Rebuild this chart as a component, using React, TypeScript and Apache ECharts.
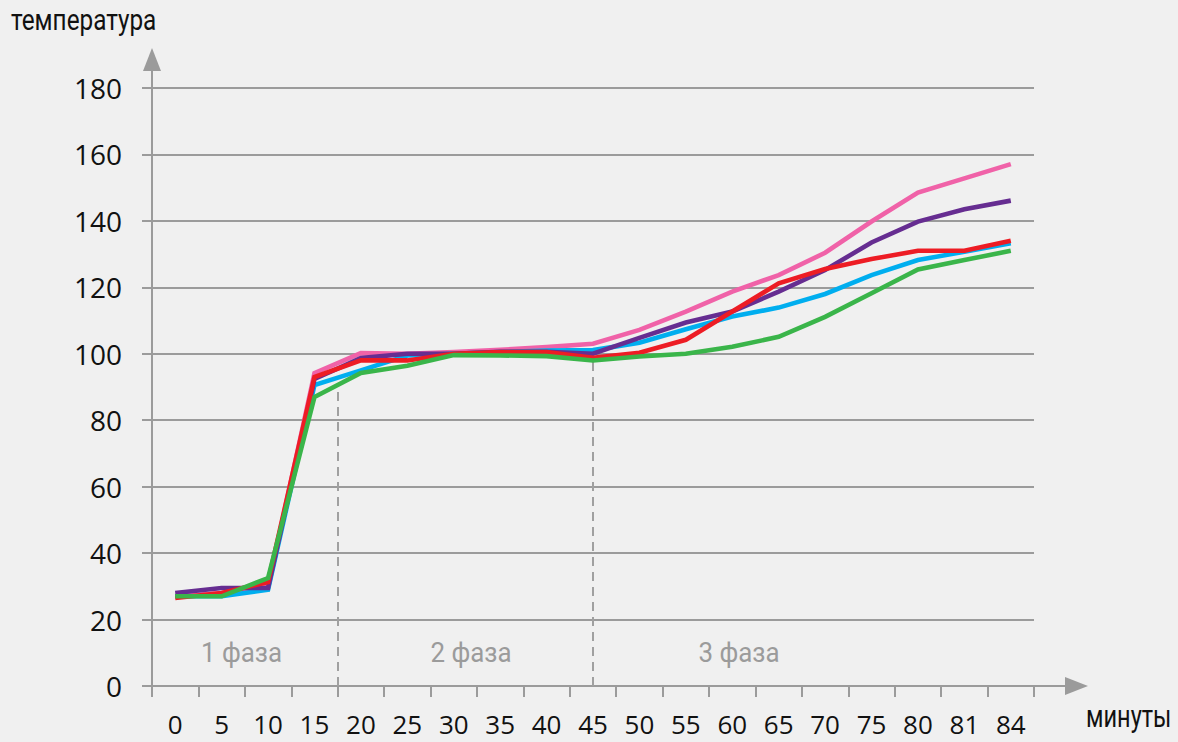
import React, { useEffect, useRef } from "react";
import * as echarts from "echarts";

const categories = ["0", "5", "10", "15", "20", "25", "30", "35", "40", "45", "50", "55", "60", "65", "70", "75", "80", "81", "84"];
const pinkValues = [27, 28, 30, 94.2, 100.2, 100, 100.5, 101.2, 102, 103, 107.2, 112.7, 118.7, 123.7, 130.4, 139.8, 148.5, 152.8, 157.1];
const blueValues = [27, 27, 29, 90.6, 95, 99.5, 100, 100.5, 101, 101.1, 103.3, 107.4, 111.2, 113.9, 118, 123.7, 128.2, 130.7, 133.3];
const purpleValues = [28, 29.5, 29.5, 92.4, 98.7, 100, 100, 100.6, 100.6, 100, 104.8, 109.4, 112.7, 118.7, 125.2, 133.5, 139.8, 143.5, 146.1];
const redValues = [26.5, 28, 31.3, 93, 98, 98, 100, 100.5, 100.5, 98.8, 100.3, 104.2, 112.7, 121.2, 125.5, 128.5, 131, 131, 134];
const greenValues = [27, 27, 32.5, 87, 94.2, 96.4, 99.6, 99.5, 99.3, 98, 99.2, 100, 102.1, 105.1, 111.1, 118.2, 125.4, 128.2, 131];
const seriesNames = ["pink", "blue", "purple", "red", "green"];
const seriesColors = ["#F062A8", "#00AEEF", "#662D91", "#ED1C24", "#3AB54A"];
// phase boundaries in category-band units (0..19) and the height of each dashed marker
const phaseBoundaries = [4, 9.5];
const phaseMarkerTops = [91, 99];
const phaseLabels = ["1 фаза", "2 фаза", "3 фаза"];
const yTicks = { min: 0, max: 180, interval: 20 };
const yAxisTitle = "температура";
const xAxisTitle = "минуты";

const GRAY = "#9b9b9b";
const NARROW = "Roboto, sans-serif";
const DIGITS = "'Open Sans', 'Noto Sans', sans-serif";

export default function App() {
  const ref = useRef<HTMLDivElement>(null);
  useEffect(() => {
    if (!ref.current) return;
    const chart = echarts.init(ref.current, null, { renderer: "svg" });
    const values = [pinkValues, blueValues, purpleValues, redValues, greenValues];
    const phaseText = (t: string, x: number) => ({
      type: "text",
      x,
      y: 652.5,
      scaleX: 0.96,
      style: { text: t, fill: "#9b9b9b", font: `27px ${NARROW}`, align: "center", verticalAlign: "middle" },
    });
    const option: any = {
      animation: false,
      backgroundColor: "#F0F0F0",
      grid: { left: 152, right: 144, top: 88, bottom: 56, containLabel: false },
      xAxis: [
        {
          type: "category",
          data: categories,
          boundaryGap: true,
          axisLine: { show: true, lineStyle: { color: GRAY, width: 2 } },
          axisTick: { show: true, length: 11, inside: false, lineStyle: { color: GRAY, width: 2 } },
          axisLabel: { color: "#111", fontSize: 26, fontFamily: DIGITS, margin: 25, interval: 0 },
          splitLine: { show: false },
        },
        { type: "value", min: 0, max: 19, show: false },
      ],
      yAxis: {
        type: "value",
        min: yTicks.min,
        max: yTicks.max,
        interval: yTicks.interval,
        axisLine: { show: true, lineStyle: { color: GRAY, width: 2 } },
        axisTick: { show: true, length: 10, inside: false, lineStyle: { color: GRAY, width: 2 } },
        axisLabel: { color: "#111", fontSize: 28, fontFamily: DIGITS, margin: 30 },
        splitLine: { show: true, lineStyle: { color: GRAY, width: 2 } },
      },
      series: [
        {
          type: "line",
          xAxisIndex: 1,
          data: [],
          silent: true,
          markLine: {
            symbol: ["none", "none"],
            silent: true,
            label: { show: false },
            lineStyle: { color: "#a0a0a0", width: 2, type: [9, 6] },
            data: phaseBoundaries.map((b, i) => [{ coord: [b, 0] }, { coord: [b, phaseMarkerTops[i]] }]),
          },
        },
        ...values.map((v, i) => ({
          name: seriesNames[i],
          type: "line",
          data: v,
          symbol: "none",
          smooth: false,
          lineStyle: { color: seriesColors[i], width: 4.6, join: "miter" },
          itemStyle: { color: seriesColors[i] },
          z: 3 + i,
        })),
      ],
      graphic: [
        { type: "line", shape: { x1: 152, y1: 89, x2: 152, y2: 66 }, style: { stroke: GRAY, lineWidth: 2 } },
        { type: "polygon", shape: { points: [[152, 48], [143, 71], [161, 71]] }, style: { fill: GRAY } },
        { type: "line", shape: { x1: 1033, y1: 686, x2: 1070, y2: 686 }, style: { stroke: GRAY, lineWidth: 2 } },
        { type: "polygon", shape: { points: [[1088, 686], [1065, 677], [1065, 695]] }, style: { fill: GRAY } },
        { type: "text", x: 11, y: 20.5, scaleX: 0.81, style: { text: yAxisTitle, fill: "#111", font: `30px ${NARROW}`, verticalAlign: "middle" } },
        { type: "text", x: 1086, y: 716.5, scaleX: 0.76, style: { text: xAxisTitle, fill: "#111", font: `31px ${NARROW}`, verticalAlign: "middle" } },
        phaseText(phaseLabels[0], 241.5),
        phaseText(phaseLabels[1], 471),
        phaseText(phaseLabels[2], 739),
      ],
    };
    chart.setOption(option);
    return () => chart.dispose();
  }, []);
  return <div ref={ref} style={{ width: 1178, height: 742, position: "absolute", left: 0, top: 0 }} />;
}
